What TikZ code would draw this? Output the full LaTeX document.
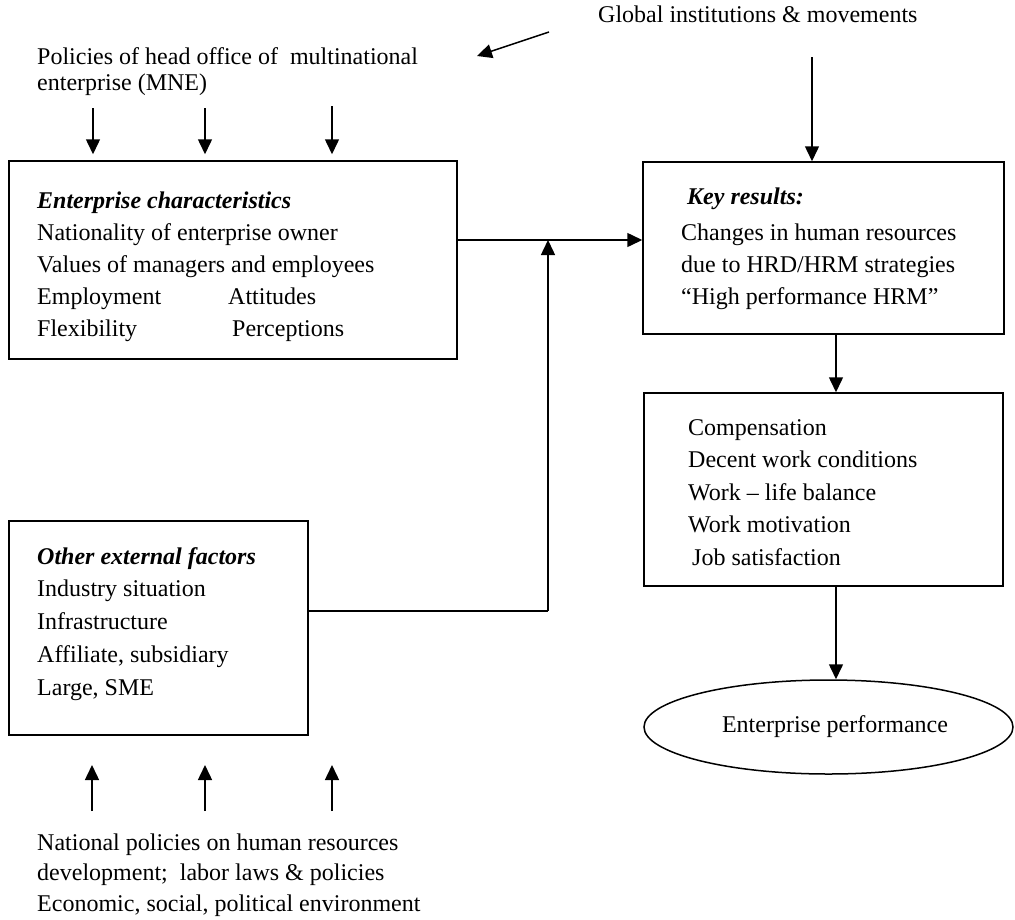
\documentclass[tikz,border=0pt]{standalone}
\usepackage{fontspec}
\setmainfont{Liberation Serif}
\usetikzlibrary{arrows.meta,shapes.geometric}
\tikzset{
  x=1pt, y=-1pt,
  framebox/.style={draw, line width=1.5pt, rectangle, inner sep=0pt},
  arr/.style={line width=1.5pt, -{Triangle[length=15pt,width=14pt]}},
  plain/.style={line width=1.5pt},
  txt/.style={anchor=base west, inner sep=0pt},
}
\newcommand{\bi}[1]{\textbf{\textit{#1}}}
\begin{document}
\begin{tikzpicture}
\useasboundingbox (0,0) rectangle (1015,919);

% boxes
\node[framebox, minimum width=448pt, minimum height=198pt] (ec) at (233,260) {};
\node[framebox, minimum width=361pt, minimum height=172pt] (kr) at (823.5,248) {};
\node[framebox, minimum width=299pt, minimum height=214pt] (oe) at (158.5,628) {};
\node[framebox, minimum width=359pt, minimum height=193pt] (ob) at (823.5,489.5) {};
\node[draw, ellipse, line width=1.5pt, inner sep=0pt, minimum width=369pt, minimum height=94pt] (ep) at (828.5,727) {};
\node[inner sep=0pt, font=\fontsize{24}{28}\selectfont] (eptx) at (835,727) {Enterprise performance};

% texts
\node[txt, font=\fontsize{24}{26.5}\selectfont] (pol) at (37,64)
  {\parbox[t]{500pt}{Policies of head office of\ \ multinational\\enterprise (MNE)}};
\node[txt, font=\fontsize{24}{28}\selectfont] (gl) at (598,22) {Global institutions \& movements};

\node[txt, font=\fontsize{24}{32}\selectfont] (ectx) at (37,208)
  {\parbox[t]{420pt}{\bi{Enterprise characteristics}\\
   Nationality of enterprise owner\\
   Values of managers and employees\\
   \makebox[191pt][l]{Employment}Attitudes\\
   \makebox[195pt][l]{Flexibility}Perceptions}};

\node[txt, font=\fontsize{24}{32}\selectfont] (krtx) at (681,204)
  {\parbox[t]{320pt}{\hspace*{6pt}\bi{Key results:}\\[4pt]
   Changes in human resources\\
   due to HRD/HRM strategies\\
   “High performance HRM”}};

\node[txt, font=\fontsize{24}{32.5}\selectfont] (obtx) at (688,435)
  {\parbox[t]{310pt}{Compensation\\
   Decent work conditions\\
   Work – life balance\\
   Work motivation\\
   \hspace*{4pt}Job satisfaction}};

\node[txt, font=\fontsize{24}{32.75}\selectfont] (oetx) at (37,564)
  {\parbox[t]{260pt}{\bi{Other external factors}\\
   Industry situation\\
   Infrastructure\\
   Affiliate, subsidiary\\
   Large, SME}};

\node[txt, font=\fontsize{24}{30.5}\selectfont] (nat) at (37,850)
  {\parbox[t]{420pt}{National policies on human resources\\
   development;\ \ labor laws \& policies\\
   Economic, social, political environment}};

% coordinates
\coordinate (j) at (548,240);
\coordinate (k) at (548,611);
\coordinate (cx) at (836,0);
\coordinate (g1) at (812,57);
\coordinate (d1) at (549,32);
\coordinate (d2) at (477,56);
\coordinate (p1) at (93,108);
\coordinate (p2) at (205,108);
\coordinate (p3) at (332,106);
\coordinate (u1) at (92,811);
\coordinate (u2) at (205,811);
\coordinate (u3) at (332,811);
\coordinate (v1) at (92,765);
\coordinate (v2) at (205,765);
\coordinate (v3) at (332,765);

% connectors
\draw[arr] (ec.east |- j) -- (kr.west |- j);
\draw[plain] (oe.east |- k) -- (k);
\draw[arr] (k) -- (j);
\draw[arr] (kr.south -| cx) -- (ob.north -| cx);
\draw[arr] (ob.south -| cx) -- (ep.north -| cx);
\draw[arr] (g1) -- (kr.north -| g1);
\draw[arr] (d1) -- (d2);
\draw[arr, shorten >=6pt] (p1) -- (ec.north -| p1);
\draw[arr, shorten >=6pt] (p2) -- (ec.north -| p2);
\draw[arr, shorten >=6pt] (p3) -- (ec.north -| p3);
\draw[arr] (u1) -- (v1);
\draw[arr] (u2) -- (v2);
\draw[arr] (u3) -- (v3);
\end{tikzpicture}
\end{document}
